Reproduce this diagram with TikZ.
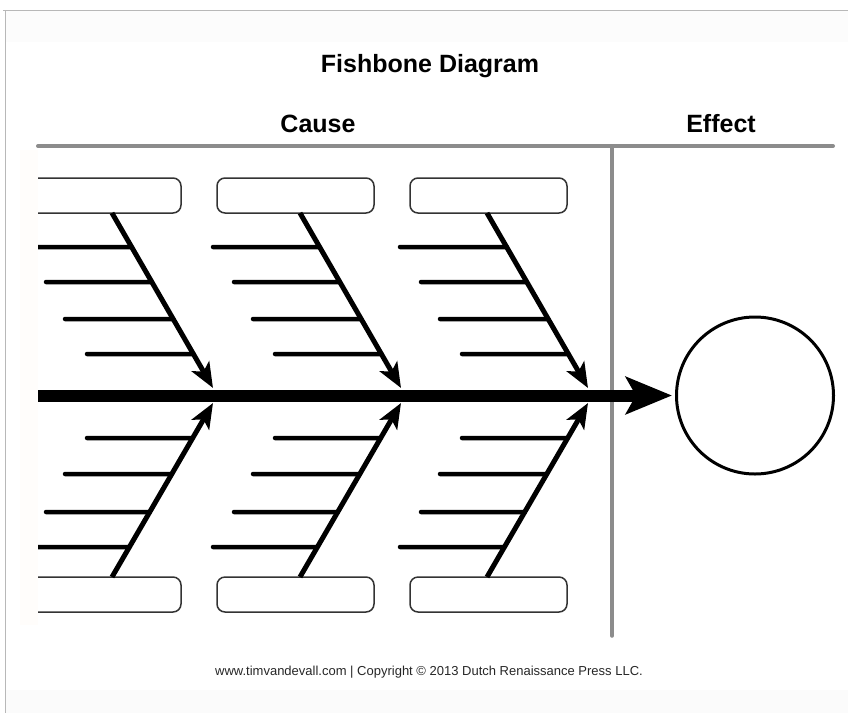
\documentclass[tikz,border=0pt]{standalone}
\usepackage{fontspec}
\setmainfont{Liberation Sans}
\usetikzlibrary{arrows.meta,calc}
\begin{document}
\begin{tikzpicture}[x=1pt,y=-1pt,
  frameline/.style={draw=black!28,line width=1pt},
  rule/.style={draw=black!45,line width=4pt,line cap=round},
  catbox/.style={draw=black!80,line width=1.5pt,rounded corners=8pt,minimum width=157pt,minimum height=35pt,inner sep=0pt,fill=white},
  bone/.style={line width=5pt,-{Stealth[length=25pt,width=20pt,inset=6pt]}},
  rib/.style={line width=4.5pt,line cap=round},
  spine/.style={line width=12pt,-{Stealth[length=46pt,width=37pt,inset=10pt]}},
  heading/.style={font=\fontsize{25}{30}\selectfont\bfseries,anchor=base,inner sep=0pt},
  footer/.style={font=\fontsize{13}{15}\selectfont,anchor=base,inner sep=0pt,text=black!85},
]
\useasboundingbox (0,0) rectangle (848,713);
% faint page bands
\fill[black!1] (6,11) rectangle (848,42);
\fill[black!1.5] (6,690) rectangle (848,713);
\fill[orange!1.5] (20,150) rectangle (38,625);
% page frame
\draw[frameline] (3,10.5) -- (848,10.5);
\draw[frameline] (5.5,10) -- (5.5,713);

% headings
\node[heading] (title) at (430,72) {Fishbone Diagram};
\node[heading] (cause) at (318,132) {Cause};
\node[heading] (effectlabel) at (721,132) {Effect};

% gray rules
\coordinate (r0) at (38,146);
\coordinate (r1) at (833,146);
\coordinate (v0) at (612,146);
\coordinate (v1) at (612,636);
\draw[rule] (r0) -- (r1);
\draw[rule,line width=3.5pt] (v0) -- (v1);

% effect circle
\node[circle,draw,line width=3pt,minimum size=157pt,inner sep=0pt] (effect) at (755,395.5) {};

\begin{scope}
\clip (38,0) rectangle (848,713);
% ribs
\foreach \i/\bx in {1/112,2/300,3/487} {
  \coordinate (tb\i) at (\bx,213);
  \coordinate (tt\i) at (\bx+101,388);
  \coordinate (bb\i) at (\bx,577);
  \coordinate (bt\i) at (\bx+101,403);
  \foreach \yy/\dx in {247/-87,282/-66,319/-47,354/-25} {
    \coordinate (tl) at (\bx+\dx,\yy);
    \draw[rib] (tl) -- ($(tb\i)!{(\yy-213)/175}!(tt\i)$);
  }
  \foreach \yy/\dx in {438/-25,474/-47,512/-66,547/-87} {
    \coordinate (bl) at (\bx+\dx,\yy);
    \draw[rib] (bl) -- ($(bb\i)!{(577-\yy)/174}!(bt\i)$);
  }
}
% category boxes
\node[catbox] (box1t) at (102.5,195.5) {};
\node[catbox] (box2t) at (295.5,195.5) {};
\node[catbox] (box3t) at (488.5,195.5) {};
\node[catbox] (box1b) at (102.5,594.5) {};
\node[catbox] (box2b) at (295.5,594.5) {};
\node[catbox] (box3b) at (488.5,594.5) {};
% spine
\coordinate (sp0) at (38,395.5);
\draw[spine] (sp0) -- ([xshift=-3pt]effect.west);
% bones
\foreach \i in {1,2,3} {
  \draw[bone] (tb\i) -- (tt\i);
  \draw[bone] (bb\i) -- (bt\i);
}
\end{scope}

% footer
\node[footer] (foot) at (429,675) {www.timvandevall.com | Copyright © 2013 Dutch Renaissance Press LLC.};
\end{tikzpicture}
\end{document}
